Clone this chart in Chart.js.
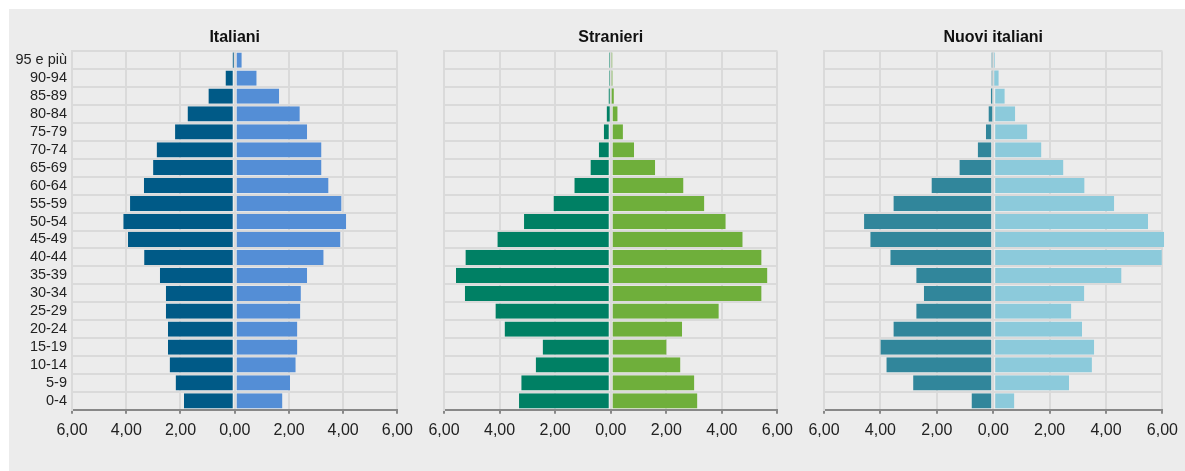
<!DOCTYPE html>
<html>
<head>
<meta charset="utf-8">
<script src="https://cdn.jsdelivr.net/npm/chart.js@4"></script>
<style>
  body { margin: 0; background: #fff; }
  #box { position: absolute; left: 9px; top: 9px; width: 1176px; height: 462px; background: #ececec; }
  canvas { position: absolute; top: 0; }
</style>
</head>
<body>
<div id="box">
  <canvas id="c1" width="411" height="462" style="left:0px"></canvas>
  <canvas id="c2" width="380" height="462" style="left:411px"></canvas>
  <canvas id="c3" width="385" height="462" style="left:791px"></canvas>
</div>
<script>
// classi di età, dall'alto verso il basso
const ageGroups = ["95 e più", "90-94", "85-89", "80-84", "75-79", "70-74", "65-69", "60-64", "55-59",
  "50-54", "45-49", "40-44", "35-39", "30-34", "25-29", "20-24", "15-19", "10-14", "5-9", "0-4"]

// percentuali (maschi a sinistra, femmine a destra)
const italianiM = [0.07, 0.34, 0.97, 1.74, 2.20, 2.88, 3.01, 3.35, 3.86, 4.11, 3.94, 3.34, 2.76, 2.54, 2.54, 2.46, 2.46, 2.40, 2.18, 1.87]
const italianiF = [0.26, 0.81, 1.64, 2.40, 2.67, 3.20, 3.20, 3.46, 3.94, 4.11, 3.90, 3.28, 2.67, 2.44, 2.42, 2.31, 2.31, 2.25, 2.04, 1.76]
const stranieriM = [0.02, 0.02, 0.07, 0.14, 0.25, 0.43, 0.73, 1.31, 2.06, 3.12, 4.08, 5.23, 5.57, 5.25, 4.15, 3.82, 2.45, 2.70, 3.22, 3.30]
const stranieriF = [0.04, 0.06, 0.11, 0.25, 0.44, 0.84, 1.60, 2.62, 3.37, 4.14, 4.75, 5.43, 5.64, 5.43, 3.89, 2.57, 2.01, 2.51, 3.01, 3.12]
const nuoviM = [0.02, 0.02, 0.08, 0.16, 0.26, 0.55, 1.20, 2.19, 3.54, 4.58, 4.36, 3.65, 2.73, 2.46, 2.73, 3.54, 4.00, 3.79, 2.84, 0.77]
const nuoviF = [0.06, 0.19, 0.41, 0.78, 1.21, 1.71, 2.49, 3.24, 4.29, 5.49, 6.06, 5.98, 4.55, 3.23, 2.77, 3.15, 3.58, 3.50, 2.69, 0.75]

const xMin = -6, xMax = 6, xStep = 2

Chart.defaults.font.family = "'Liberation Sans', Arial, sans-serif"
Chart.defaults.color = "#222"

function pyramid(id, title, males, females, colM, colF, showLabels, pad) {
  // bordo chiaro solo verso lo zero (niente bordo sulle barre piccolissime)
  const ds = (data, color, side) => ({
    data: data,
    backgroundColor: color,
    borderColor: "rgba(236,236,236,0.6)",
    borderWidth: (c) => {
      const w = Math.abs(c.raw) >= 0.2 ? 1 : 0
      return side === "right" ? { top: 0, bottom: 0, left: 0, right: w } : { top: 0, bottom: 0, left: w, right: 0 }
    },
    borderSkipped: false,
    barPercentage: 0.85,
    categoryPercentage: 1,
    minBarLength: 1.5,
    clip: false,
  })
  new Chart(document.getElementById(id), {
    type: "bar",
    data: {
      labels: ageGroups,
      datasets: [ds(males.map((v) => -v), colM, "right"), ds(females, colF, "left")],
    },
    options: {
      indexAxis: "y",
      responsive: false,
      animation: false,
      layout: { padding: pad },
      plugins: {
        legend: { display: false },
        tooltip: { enabled: false },
        title: {
          display: true,
          text: title,
          fullSize: false,
          color: "#111",
          font: { size: 16, weight: "bold" },
          padding: { top: 19, bottom: 4 },
        },
      },
      scales: {
        x: {
          stacked: true,
          min: xMin,
          max: xMax,
          ticks: {
            stepSize: xStep,
            padding: 7,
            font: { size: 16 },
            maxRotation: 0,
            callback: (v) => Math.abs(v).toFixed(2).replace(".", ","),
          },
          grid: { color: "#dadada", lineWidth: 2, tickColor: "#888", tickLength: 4 },
          border: { color: "#888", width: 2 },
        },
        y: {
          stacked: true,
          ticks: { display: showLabels, autoSkip: false, padding: 5, font: { size: 14.5 } },
          grid: { color: "#dadada", lineWidth: 2, drawTicks: false },
          border: { color: "#dadada", width: 2 },
          afterFit: (s) => { s.width = showLabels ? 63 : 0 },
        },
      },
    },
  })
}

pyramid("c1", "Italiani", italianiM, italianiF, "#005a87", "#548ed6", true, { left: 0, right: 20, top: 0, bottom: 24 })
pyramid("c2", "Stranieri", stranieriM, stranieriF, "#008064", "#6faf3b", false, { left: 24, right: 19, top: 0, bottom: 24 })
pyramid("c3", "Nuovi italiani", nuoviM, nuoviF, "#31869b", "#8ccadb", false, { left: 24, right: 19, top: 0, bottom: 24 })
</script>
</body>
</html>
